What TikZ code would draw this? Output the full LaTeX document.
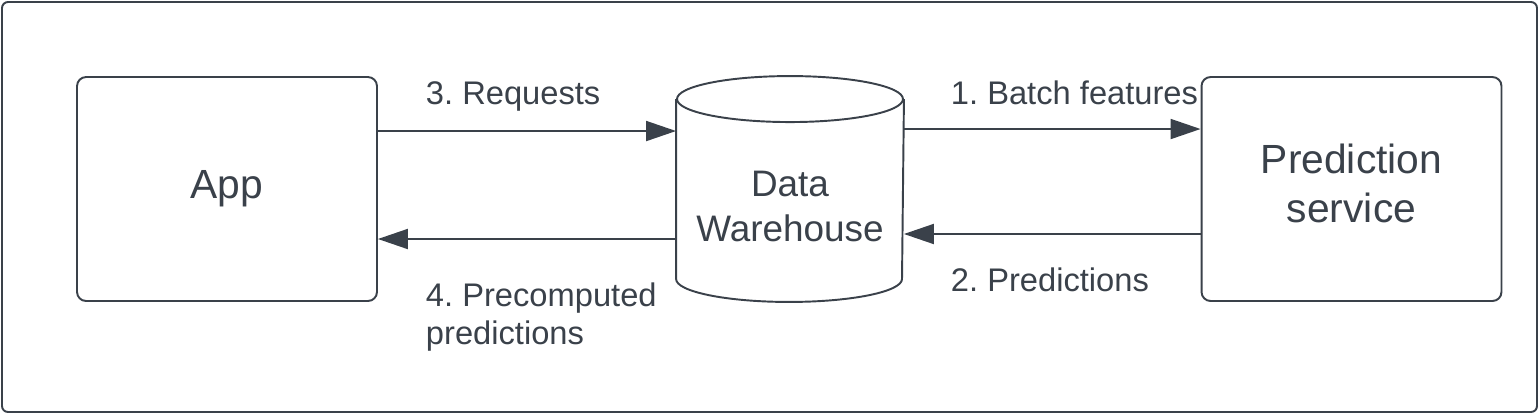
\documentclass[tikz,border=0pt]{standalone}
\usepackage{fontspec}
\setmainfont{Liberation Sans}
\usetikzlibrary{arrows.meta}
\definecolor{ink}{HTML}{3A414A}
\frenchspacing
\begin{document}
\begin{tikzpicture}[x=0.02cm, y=-0.02cm, color=ink, line width=1.1pt,
		box/.style={draw, rounded corners=0.18cm, minimum width=6cm, minimum height=4.48cm, align=center, font=\fontsize{23.2}{27.8}\selectfont},
		store/.style={minimum width=4.52cm, minimum height=4.48cm, inner sep=0pt},
		lbl/.style={inner sep=0pt, align=left, font=\fontsize{18.6}{21.6}\selectfont},
		flow/.style={-{Triangle[length=0.6cm, width=0.4cm]}}]
		\useasboundingbox (0,0) rectangle (1539,414);

		% Outer frame
		\draw[rounded corners=0.12cm] (2,2) rectangle (1537,412);

		% Left: app
		\node[box] (app) at (227,189) {App};

		% Middle: data warehouse drum
		\node[store] (dw) at (790,189) {};
		\draw ([yshift=-0.46cm]dw.north) ellipse [x radius=2.26cm, y radius=0.46cm];
		\draw ([yshift=-0.46cm]dw.north west) -- ([yshift=0.46cm]dw.south west)
			arc [start angle=180, end angle=360, x radius=2.26cm, y radius=0.46cm]
			-- ([yshift=-0.46cm]dw.north east);
		\node[align=center, font=\fontsize{21}{26}\selectfont] (dwtext) at ([yshift=-0.35cm]dw.center) {Data\\Warehouse};

		% Right: prediction service
		\node[box] (pred) at (1351.5,189) {};
		\node[align=center, font=\fontsize{23.2}{27.8}\selectfont] (predtext) at ([yshift=0.12cm]pred.center) {Prediction\\service};

		% Arrows between boxes
		\draw[flow] ([yshift=1.16cm]app.east) -- ([yshift=1.16cm]dw.west);
		\draw[flow] ([yshift=-1cm]dw.west) -- ([yshift=-1cm]app.east);
		\draw[flow] ([yshift=1.2cm]dw.east) -- ([yshift=1.2cm]pred.west);
		\draw[flow] ([yshift=-0.9cm]pred.west) -- ([yshift=-0.9cm]dw.east);

		% Arrow labels
		\node[lbl, anchor=base west] (lreq) at (425,104) {3. Requests};
		\node[lbl, anchor=north west] (lpre) at (425,282) {4. Precomputed\\predictions};
		\node[lbl, anchor=base west] (lbatch) at (950,104) {1. Batch features};
		\node[lbl, anchor=base west] (lpred) at (950,291) {2. Predictions};
	\end{tikzpicture}
\end{document}
